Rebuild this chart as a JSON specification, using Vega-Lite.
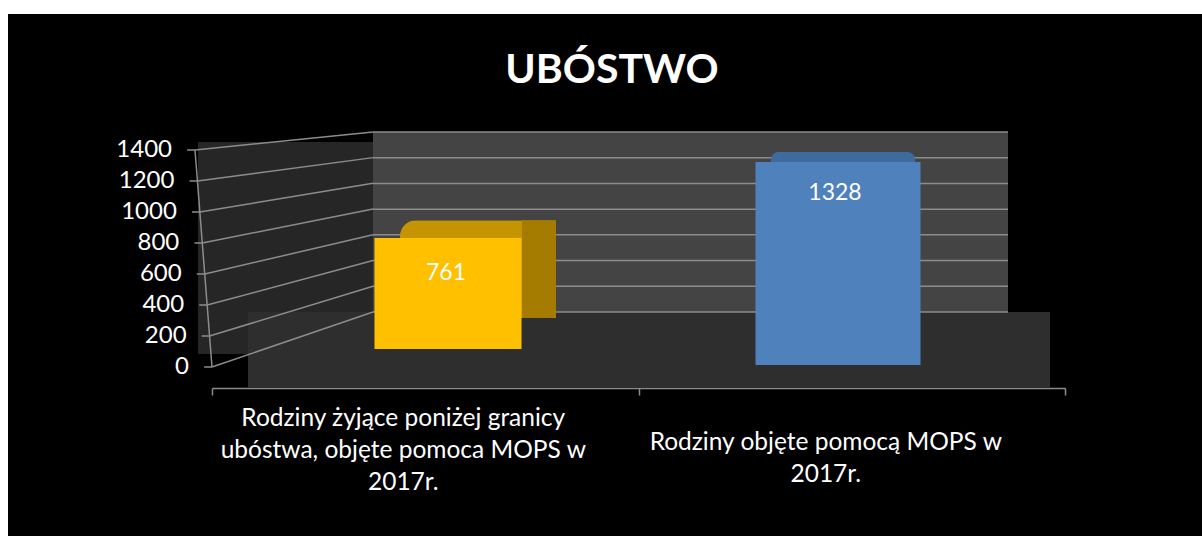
{
"$schema":"https://vega.github.io/schema/vega-lite/v6.json",
"width":1194,"height":522,"autosize":{"type":"none"},
"padding":{"left":8,"top":14,"right":0,"bottom":0},
"background":"white",
"view":{"fill":"#000000","stroke":null},
"config":{"font":"Lato"},
"title":{"text":"UBÓSTWO","font":"Lato","fontSize":41,"fontWeight":"bold","color":"#ffffff","anchor":"middle","frame":"group","offset":-78,"dx":7},
"datasets":{
"rows":[
{"cat":"Rodziny żyjące poniżej granicy ubóstwa, objęte pomoca MOPS w 2017r.","label":"Rodziny żyjące poniżej granicy\nubóstwa, objęte pomoca MOPS w\n2017r.","value":761},
{"cat":"Rodziny objęte pomocą MOPS w 2017r.","label":"Rodziny objęte pomocą MOPS w\n2017r.","value":1328}
],
"levels":[{"v":0},{"v":200},{"v":400},{"v":600},{"v":800},{"v":1000},{"v":1200},{"v":1400}],
"unit":[{"a":0,"b":1}]
},
"data":{"name":"rows"},
"layer":[
{"data":{"name":"unit"},"mark":{"type":"rect","color":"#262626"},"encoding":{
 "x":{"field":"a","type":"quantitative","axis":null,"scale":{"domain":[0,1],"range":[190,365]}},"x2":{"field":"b"},
 "y":{"field":"a","type":"quantitative","axis":null,"scale":{"domain":[0,1],"range":[340,128]}},"y2":{"field":"b"}}},
{"data":{"name":"unit"},"mark":{"type":"rect","color":"#2e2e2e"},"encoding":{
 "x":{"field":"a","type":"quantitative","axis":null,"scale":{"domain":[0,1],"range":[240,1042]}},"x2":{"field":"b"},
 "y":{"field":"a","type":"quantitative","axis":null,"scale":{"domain":[0,1],"range":[374,298]}},"y2":{"field":"b"}}},
{"data":{"name":"unit"},"mark":{"type":"rect","color":"#444444"},"encoding":{
 "x":{"field":"a","type":"quantitative","axis":null,"scale":{"domain":[0,1],"range":[365,1000]}},"x2":{"field":"b"},
 "y":{"field":"a","type":"quantitative","axis":null,"scale":{"domain":[0,1],"range":[298,118]}},"y2":{"field":"b"}}},
{"data":{"name":"levels"},"transform":[{"calculate":"datum.v*0+1","as":"one"},{"calculate":"datum.v*0","as":"zero"}],"mark":{"type":"rule","color":"#8c8c8c","strokeWidth":1.5},"encoding":{
 "x":{"field":"zero","type":"quantitative","axis":null,"scale":{"domain":[0,1],"range":[365,1000]}},"x2":{"field":"one"},
 "y":{"field":"v","type":"quantitative","axis":null,"scale":{"domain":[0,1400],"range":[298,118]}}}},
{"data":{"name":"levels"},"transform":[{"calculate":"354.8+0.83*datum.v","as":"yb"},{"calculate":"-13259","as":"bx"}],"mark":{"type":"rule","color":"#8c8c8c","strokeWidth":1.5},"encoding":{
 "x":{"field":"v","type":"quantitative","axis":null,"scale":{"domain":[0,1400],"range":[204,187]}},"x2":{"field":"bx"},
 "y":{"field":"v","type":"quantitative","axis":null,"scale":{"domain":[0,1400],"range":[353,136]}},"y2":{"field":"yb"}}},
{"data":{"name":"levels"},"transform":[{"calculate":"datum.v+650","as":"t"}],"mark":{"type":"rule","color":"#8c8c8c","strokeWidth":1.5},"encoding":{
 "x":{"field":"v","type":"quantitative","axis":null,"scale":{"domain":[0,1400],"range":[204,187]}},"x2":{"field":"t"},
 "y":{"field":"v","type":"quantitative","axis":null,"scale":{"domain":[0,1400],"range":[353,136]}}}},
{"data":{"values":[{"from":0,"to":1400}]},"mark":{"type":"rule","color":"#8c8c8c","strokeWidth":1.5},"encoding":{
 "x":{"field":"from","type":"quantitative","axis":null,"scale":{"domain":[0,1400],"range":[204,187]}},"x2":{"field":"to"},
 "y":{"field":"from","type":"quantitative","axis":null,"scale":{"domain":[0,1400],"range":[353,136]}},"y2":{"field":"to"}}},
{"data":{"name":"levels"},"mark":{"type":"text","align":"right","baseline":"middle","dx":-23,"fontSize":24,"font":"Lato","color":"#ffffff"},"encoding":{
 "x":{"field":"v","type":"quantitative","axis":null,"scale":{"domain":[0,1400],"range":[204,187]}},
 "y":{"field":"v","type":"quantitative","axis":null,"scale":{"domain":[0,1400],"range":[353,136]}},
 "text":{"field":"v","type":"quantitative"}}},
{"transform":[{"filter":"datum.value==761"}],"mark":{"type":"text","align":"center","baseline":"top","dx":-22,"lineHeight":32,"lineBreak":"\n","fontSize":24.5,"font":"Lato","color":"#ffffff"},"encoding":{
 "x":{"field":"cat","type":"nominal","sort":null,"title":null,"scale":{"domain":["Rodziny żyjące poniżej granicy ubóstwa, objęte pomoca MOPS w 2017r.","Rodziny objęte pomocą MOPS w 2017r."],"range":[204,1057],"paddingInner":0,"paddingOuter":0},
  "axis":{"labels":false,"tickBand":"extent","offset":-148,"domainColor":"#8c8c8c","domainWidth":1.5,"tickColor":"#8c8c8c","tickSize":7,"tickWidth":1.5,"grid":false}},
 "y":{"datum":0,"scale":{"domain":[0,1],"range":[393,0]},"axis":null},
 "text":{"field":"label","type":"nominal"}}},
{"transform":[{"filter":"datum.value==1328"}],"mark":{"type":"text","align":"center","baseline":"top","dx":-26,"lineHeight":32,"lineBreak":"\n","fontSize":24.5,"font":"Lato","color":"#ffffff"},"encoding":{
 "x":{"field":"cat","type":"nominal","sort":null,"axis":null,"scale":{"domain":["Rodziny żyjące poniżej granicy ubóstwa, objęte pomoca MOPS w 2017r.","Rodziny objęte pomocą MOPS w 2017r."],"range":[204,1057],"paddingInner":0,"paddingOuter":0}},
 "y":{"datum":0,"scale":{"domain":[0,1],"range":[417,0]},"axis":null},
 "text":{"field":"label","type":"nominal"}}},
{"transform":[{"filter":"datum.value==761"}],"mark":{"type":"bar","size":156,"xOffset":30,"color":"#C49500","cornerRadiusTopLeft":16},"encoding":{
 "x":{"field":"cat","type":"nominal","sort":null,"axis":null,"scale":{"domain":["Rodziny żyjące poniżej granicy ubóstwa, objęte pomoca MOPS w 2017r.","Rodziny objęte pomocą MOPS w 2017r."],"range":[245,1025],"paddingInner":0,"paddingOuter":0}},
 "y":{"field":"value","type":"quantitative","axis":null,"scale":{"domain":[0,1400],"range":[304,124]}}}},
{"transform":[{"filter":"datum.value==761"}],"mark":{"type":"bar","size":34,"xOffset":91,"color":"#A67C00"},"encoding":{
 "x":{"field":"cat","type":"nominal","sort":null,"axis":null,"scale":{"domain":["Rodziny żyjące poniżej granicy ubóstwa, objęte pomoca MOPS w 2017r.","Rodziny objęte pomocą MOPS w 2017r."],"range":[245,1025],"paddingInner":0,"paddingOuter":0}},
 "y":{"field":"value","type":"quantitative","axis":null,"scale":{"domain":[0,1400],"range":[304,124]}}}},
{"transform":[{"filter":"datum.value==761"}],"mark":{"type":"bar","size":147,"color":"#FFC000"},"encoding":{
 "x":{"field":"cat","type":"nominal","sort":null,"axis":null,"scale":{"domain":["Rodziny żyjące poniżej granicy ubóstwa, objęte pomoca MOPS w 2017r.","Rodziny objęte pomocą MOPS w 2017r."],"range":[245,1025],"paddingInner":0,"paddingOuter":0}},
 "y":{"field":"value","type":"quantitative","axis":null,"scale":{"domain":[0,1400],"range":[335,131]}}}},
{"transform":[{"filter":"datum.value==761"}],"mark":{"type":"text","dy":35,"dx":-2,"align":"center","baseline":"middle","fontSize":23,"font":"Lato","color":"#ffffff"},"encoding":{
 "x":{"field":"cat","type":"nominal","sort":null,"axis":null,"scale":{"domain":["Rodziny żyjące poniżej granicy ubóstwa, objęte pomoca MOPS w 2017r.","Rodziny objęte pomocą MOPS w 2017r."],"range":[245,1025],"paddingInner":0,"paddingOuter":0}},
 "y":{"field":"value","type":"quantitative","axis":null,"scale":{"domain":[0,1400],"range":[335,131]}},
 "text":{"field":"value","type":"quantitative"}}},
{"transform":[{"filter":"datum.value==1328"}],"mark":{"type":"bar","size":145,"xOffset":5,"color":"#3F6A9D","cornerRadiusTopLeft":9,"cornerRadiusTopRight":9},"encoding":{
 "x":{"field":"cat","type":"nominal","sort":null,"axis":null,"scale":{"domain":["Rodziny żyjące poniżej granicy ubóstwa, objęte pomoca MOPS w 2017r.","Rodziny objęte pomocą MOPS w 2017r."],"range":[245,1025],"paddingInner":0,"paddingOuter":0}},
 "y":{"field":"value","type":"quantitative","axis":null,"scale":{"domain":[0,1400],"range":[300,129]}}}},
{"transform":[{"filter":"datum.value==1328"}],"mark":{"type":"bar","size":165,"color":"#4F81BD"},"encoding":{
 "x":{"field":"cat","type":"nominal","sort":null,"axis":null,"scale":{"domain":["Rodziny żyjące poniżej granicy ubóstwa, objęte pomoca MOPS w 2017r.","Rodziny objęte pomocą MOPS w 2017r."],"range":[245,1025],"paddingInner":0,"paddingOuter":0}},
 "y":{"field":"value","type":"quantitative","axis":null,"scale":{"domain":[0,1400],"range":[351,137]}}}},
{"transform":[{"filter":"datum.value==1328"}],"mark":{"type":"text","dy":31,"dx":-3,"align":"center","baseline":"middle","fontSize":23,"font":"Lato","color":"#ffffff"},"encoding":{
 "x":{"field":"cat","type":"nominal","sort":null,"axis":null,"scale":{"domain":["Rodziny żyjące poniżej granicy ubóstwa, objęte pomoca MOPS w 2017r.","Rodziny objęte pomocą MOPS w 2017r."],"range":[245,1025],"paddingInner":0,"paddingOuter":0}},
 "y":{"field":"value","type":"quantitative","axis":null,"scale":{"domain":[0,1400],"range":[351,137]}},
 "text":{"field":"value","type":"quantitative"}}}
],
"resolve":{"scale":{"x":"independent","y":"independent"},"axis":{"x":"independent","y":"independent"}}
}
